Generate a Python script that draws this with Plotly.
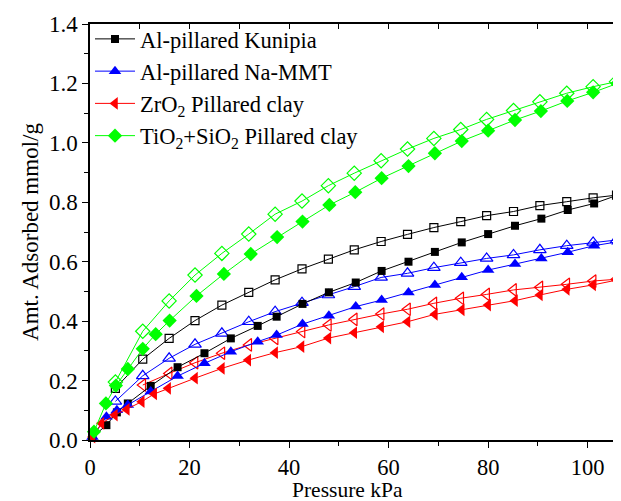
import plotly.graph_objects as go

# Adsorption (filled markers)
kun_ads_x = [0.5, 3.3, 5.4, 7.6, 12.2, 17.6, 23.0, 28.3, 33.7, 37.5, 42.7, 48.0, 53.4, 58.6, 64.0, 69.3, 74.7, 80.0, 85.4, 90.7, 96.0, 101.3, 106.0]
kun_ads_y = [0.01, 0.05, 0.093, 0.123, 0.182, 0.245, 0.292, 0.342, 0.384, 0.415, 0.458, 0.497, 0.530, 0.569, 0.600, 0.633, 0.665, 0.693, 0.721, 0.745, 0.774, 0.796, 0.824]
mmt_ads_x = kun_ads_x
mmt_ads_y = [0.01, 0.078, 0.10, 0.118, 0.163, 0.215, 0.258, 0.297, 0.331, 0.353, 0.390, 0.418, 0.449, 0.471, 0.496, 0.522, 0.548, 0.572, 0.592, 0.611, 0.632, 0.654, 0.667]
zr_ads_x = [0.5, 2.3, 5.0, 7.4, 10.4, 12.9, 15.7, 21.1, 26.5, 31.8, 37.2, 42.5, 47.9, 53.1, 58.5, 63.8, 69.3, 74.7, 80.0, 85.4, 90.4, 95.8, 101.1, 105.8]
zr_ads_y = [0.01, 0.056, 0.084, 0.103, 0.129, 0.155, 0.174, 0.208, 0.241, 0.269, 0.294, 0.314, 0.343, 0.361, 0.381, 0.398, 0.423, 0.438, 0.454, 0.469, 0.488, 0.507, 0.522, 0.538]
ti_ads_x = [0.8, 3.2, 5.2, 7.6, 10.6, 13.2, 16.0, 21.4, 26.9, 32.3, 37.6, 42.7, 48.1, 53.3, 58.6, 64.0, 69.3, 74.7, 80.0, 85.4, 90.6, 95.9, 101.1, 106.0]
ti_ads_y = [0.028, 0.123, 0.183, 0.239, 0.307, 0.356, 0.402, 0.485, 0.559, 0.626, 0.683, 0.735, 0.791, 0.834, 0.881, 0.922, 0.965, 1.006, 1.041, 1.077, 1.107, 1.141, 1.170, 1.200]

# Desorption (open markers)
des_x = [105.8, 101.1, 95.8, 90.4, 85.1, 79.7, 74.5, 69.1, 63.8, 58.5, 53.1, 47.9, 42.6, 37.2, 31.9, 26.5, 21.1, 15.9, 10.6, 5.1]
kun_des_y = [0.824, 0.815, 0.802, 0.789, 0.769, 0.755, 0.735, 0.715, 0.692, 0.668, 0.640, 0.609, 0.576, 0.539, 0.497, 0.454, 0.402, 0.342, 0.272, 0.174]
mmt_des_y = [0.673, 0.665, 0.654, 0.640, 0.623, 0.611, 0.597, 0.580, 0.561, 0.547, 0.516, 0.488, 0.462, 0.432, 0.398, 0.359, 0.322, 0.275, 0.216, 0.130]
zr_des_x = des_x[:-1]
zr_des_y = [0.541, 0.535, 0.524, 0.514, 0.505, 0.490, 0.477, 0.460, 0.440, 0.424, 0.406, 0.387, 0.365, 0.342, 0.320, 0.292, 0.260, 0.224, 0.185]
ti_des_y = [1.206, 1.189, 1.167, 1.138, 1.109, 1.079, 1.045, 1.015, 0.979, 0.940, 0.898, 0.856, 0.804, 0.760, 0.693, 0.628, 0.555, 0.468, 0.366, 0.195]

names = ["Al-pillared Kunipia", "Al-pillared Na-MMT",
         "ZrO<sub>2</sub> Pillared clay", "TiO<sub>2</sub>+SiO<sub>2</sub> Pillared clay"]
x_title = "Pressure kPa"
y_title = "Amt. Adsorbed mmol/g"

series = [
    (names[0], kun_ads_x, kun_ads_y, des_x, kun_des_y, "#000000", "square", 8),
    (names[1], mmt_ads_x, mmt_ads_y, des_x, mmt_des_y, "#0000FF", "triangle-up", 11),
    (names[2], zr_ads_x, zr_ads_y, zr_des_x, zr_des_y, "#FF0000", "triangle-left", 11),
    (names[3], ti_ads_x, ti_ads_y, des_x, ti_des_y, "#00FF00", "diamond", 11),
]

fig = go.Figure()
for name, ax, ay, dx, dy, col, sym, sz in series:
    fig.add_trace(go.Scatter(
        x=dx, y=dy, mode="lines+markers", showlegend=False, cliponaxis=False,
        line=dict(color=col, width=1),
        marker=dict(symbol=sym + "-open", size=sz, color=col, line=dict(width=1.2, color=col)),
    ))
for name, ax, ay, dx, dy, col, sym, sz in series:
    fig.add_trace(go.Scatter(
        x=ax, y=ay, mode="lines+markers", name=name, cliponaxis=False,
        line=dict(color=col, width=1),
        marker=dict(symbol=sym, size=sz, color=col, line=dict(width=0)),
    ))

fig.add_trace(go.Scatter(x=[0], y=[0], xaxis="x2", mode="markers", opacity=0,
                         showlegend=False, hoverinfo="skip"))

font_family = "Liberation Serif"
# page body has an 8px margin, so the figure is sized/offset to compensate
fig.update_layout(
    width=613, height=493,
    margin=dict(l=82, r=0, t=16, b=61),
    paper_bgcolor="white", plot_bgcolor="white",
    font=dict(family=font_family, size=23, color="black"),
    showlegend=True,
    legend=dict(x=0.0, y=1.015, xanchor="left", yanchor="top",
                bgcolor="rgba(0,0,0,0)", font=dict(size=22.5, family=font_family),
                tracegroupgap=0, itemwidth=40),
    xaxis=dict(range=[0, 106.7], dtick=20, tick0=0, showgrid=False, zeroline=False,
               automargin=False,
               showline=True, linecolor="black", linewidth=1.5,
               ticks="outside", ticklen=6, tickwidth=1.2, tickcolor="black",
               minor=dict(ticks="outside", dtick=10, ticklen=4, tickwidth=1.2, tickcolor="black"),
               tickfont=dict(size=22.5)),
    xaxis2=dict(range=[0, 106.7], overlaying="x", side="top", showgrid=False, zeroline=False,
                automargin=False,
                showline=True, linecolor="black", linewidth=1.5,
                ticks="inside", dtick=10, tick0=0, ticklen=5, tickwidth=1.2, tickcolor="black",
                showticklabels=False),
    yaxis=dict(range=[0, 1.4], dtick=0.2, tick0=0, tickformat=".1f", showgrid=False, zeroline=False,
               automargin=False,
               showline=True, linecolor="black", linewidth=1.5,
               ticks="outside", ticklen=6, tickwidth=1.2, tickcolor="black",
               minor=dict(ticks="outside", dtick=0.1, ticklen=4, tickwidth=1.2, tickcolor="black"),
               title=dict(text=y_title, font=dict(size=23), standoff=4),
               tickfont=dict(size=23)),
    annotations=[dict(text=x_title, xref="paper", yref="paper", x=0.484, y=-0.121,
                      xanchor="center", yanchor="middle", showarrow=False,
                      font=dict(size=21.5, family=font_family, color="black"))],
)

fig.write_html("out.html")
